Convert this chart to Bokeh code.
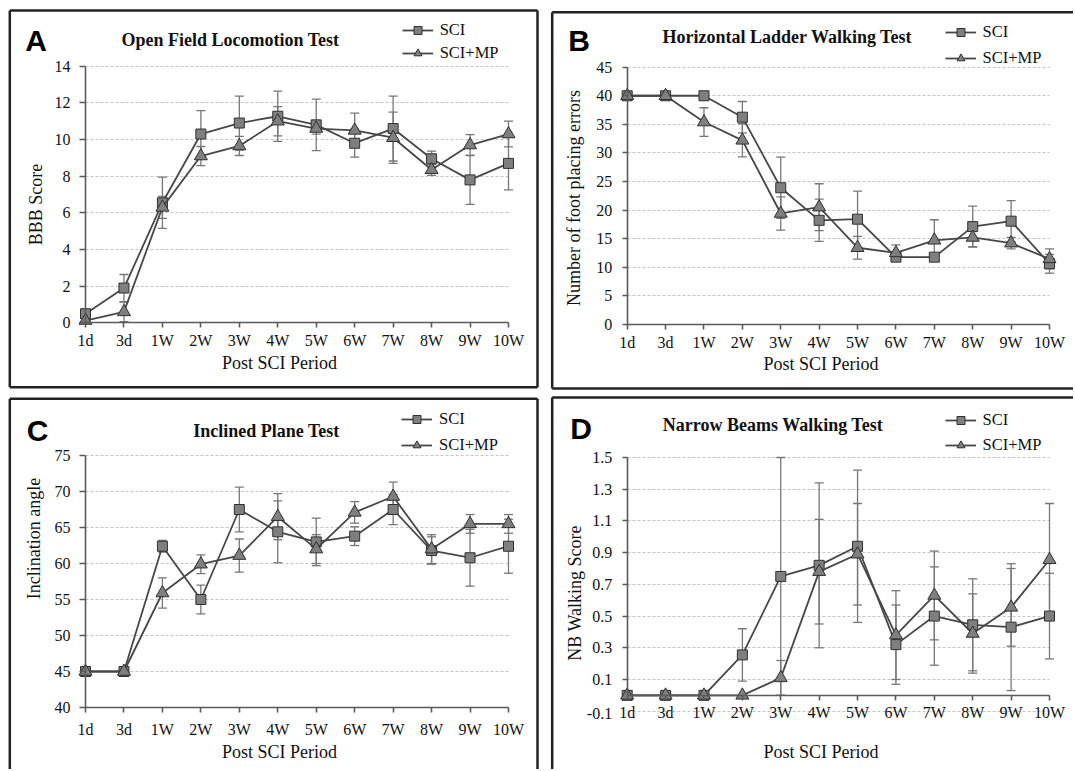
from bokeh.plotting import figure
from bokeh.layouts import column, row
from bokeh.models import (Range1d, FixedTicker, ColumnDataSource, Whisker, TeeHead,
                          Label, PolyAnnotation, Legend, LegendItem)
from bokeh.embed import file_html
from bokeh.resources import INLINE
from math import pi

# ---------------- data ----------------
periods = ["1d", "3d", "1W", "2W", "3W", "4W", "5W", "6W", "7W", "8W", "9W", "10W"]
series_names = ["SCI", "SCI+MP"]

# A: Open Field Locomotion Test (BBB score)
bbb_sci = [0.5, 1.9, 6.55, 10.3, 10.9, 11.27, 10.8, 9.8, 10.6, 8.95, 7.8, 8.7]
bbb_sci_err = [0.25, 0.74, 1.4, 1.28, 1.47, 1.37, 1.4, 0.76, 1.77, 0.42, 1.34, 1.44]
bbb_mp = [0.13, 0.6, 6.3, 9.1, 9.65, 11.0, 10.6, 10.5, 10.1, 8.35, 9.7, 10.3]
bbb_mp_err = [0.1, 0.53, 0.6, 0.52, 0.52, 0.8, 0.3, 0.94, 1.4, 0.3, 0.57, 0.7]
bbb_ticks = [0, 2, 4, 6, 8, 10, 12, 14]

# B: Horizontal Ladder Walking Test (foot placing errors)
ladder_sci = [40, 40, 40, 36.25, 23.9, 18.2, 18.4, 11.75, 11.75, 17.1, 18.05, 10.6]
ladder_sci_err = [0, 0, 0, 2.75, 5.35, 3.7, 4.9, 0.5, 0, 3.6, 3.6, 1.65]
ladder_mp = [40, 40, 35.4, 32.2, 19.4, 20.5, 13.4, 12.5, 14.7, 15.2, 14.2, 11.45]
ladder_mp_err = [0, 0, 2.5, 2.9, 2.9, 4.1, 2.0, 1.4, 3.6, 1.6, 1.0, 1.75]
ladder_ticks = [0, 5, 10, 15, 20, 25, 30, 35, 40, 45]

# C: Inclined Plane Test (inclination angle)
incline_sci = [45, 45, 62.4, 55.0, 67.5, 64.4, 63.0, 63.8, 67.5, 61.8, 60.8, 62.4]
incline_sci_err = [0, 0, 0.8, 2.0, 3.1, 4.3, 3.3, 1.3, 2.1, 1.9, 3.95, 3.75]
incline_mp = [45, 45, 55.9, 59.9, 61.1, 66.5, 62.0, 67.1, 69.3, 62.0, 65.5, 65.5]
incline_mp_err = [0, 0, 2.1, 1.3, 2.3, 3.2, 2.0, 1.5, 2.0, 2.0, 1.3, 1.3]
incline_ticks = [40, 45, 50, 55, 60, 65, 70, 75]

# D: Narrow Beams Walking Test (NB walking score)
beam_sci = [0, 0, 0, 0.255, 0.75, 0.82, 0.94, 0.32, 0.50, 0.445, 0.43, 0.50]
beam_sci_err = [0, 0, 0, 0.165, 0.75, 0.52, 0.48, 0.25, 0.31, 0.29, 0.40, 0.27]
beam_mp = [0, 0, 0, 0, 0.11, 0.78, 0.89, 0.38, 0.63, 0.39, 0.555, 0.855]
beam_mp_err = [0, 0, 0, 0, 0.11, 0.33, 0.32, 0.28, 0.28, 0.25, 0.245, 0.355]
beam_axis_ticks = [0.1, 0.3, 0.5, 0.7, 0.9, 1.1, 1.3, 1.5]
beam_grid_ticks = [-0.1, 0.1, 0.3, 0.5, 0.7, 0.9, 1.1, 1.3, 1.5]

# ---------------- style ----------------
SERIF = "Liberation Serif"
SANS = "Liberation Sans"
LINE = "#474747"
FILL = "#7f7f7f"
EDGE = "#303030"
ERR = "#777777"
GRID = "#c4c4c4"
AXIS = "#5a5a5a"
TXT = "#111111"

# visible panel-frame edges, page pixels ((x0, y0), (x1, y1)); far ends run off the window
FAR_X, FAR_Y = 2000, 2000
frame_A = [((9.3, 10), (537, 10)), ((537, 10), (537, 386.7)),
           ((9.3, 386.7), (537, 386.7)), ((9.3, 10), (9.3, 386.7))]
frame_B = [((551.7, 11.7), (FAR_X, 11.7)), ((551.7, 11.7), (551.7, 388)),
           ((551.7, 388), (FAR_X, 388))]
frame_C = [((9.3, 398.3), (537, 398.3)), ((9.3, 398.3), (9.3, FAR_Y)),
           ((537, 398.3), (537, FAR_Y))]
frame_D = [((551.7, 397), (FAR_X, 397)), ((551.7, 397), (551.7, FAR_Y))]

panels = [
    dict(letter="A", title="Open Field Locomotion Test", ylabel="BBB Score",
         sci=bbb_sci, sci_err=bbb_sci_err, mp=bbb_mp, mp_err=bbb_mp_err,
         yticks=bbb_ticks, gticks=bbb_ticks, ybounds=(0, 14), xaxis_at=0,
         canvas=(0, 0, 545, 392), xpix=(85, 508), ypix=((0, 322.4), (14, 65.7)),
         frame=frame_A, letter_xy=(35.5, 40.3), title_xy=(230, 39.3),
         ylabel_xy=(35.6, 204), xlabel_xy=(279, 362), legend=(401.7, 30, 3),
         ytick=(6, 9), xtick=(5, 4)),
    dict(letter="B", title="Horizontal Ladder Walking Test", ylabel="Number of foot placing errors",
         sci=ladder_sci, sci_err=ladder_sci_err, mp=ladder_mp, mp_err=ladder_mp_err,
         yticks=ladder_ticks, gticks=ladder_ticks, ybounds=(0, 45), xaxis_at=0,
         canvas=(545, 0, 528, 392), xpix=(626.7, 1049), ypix=((0, 323.8), (45, 66.7)),
         frame=frame_B, letter_xy=(578.7, 40), title_xy=(787, 36),
         ylabel_xy=(573.7, 197.5), xlabel_xy=(820.5, 363.3), legend=(944.5, 32.3, 6),
         ytick=(5, 10), xtick=(5, 5)),
    dict(letter="C", title="Inclined Plane Test", ylabel="Inclination angle",
         sci=incline_sci, sci_err=incline_sci_err, mp=incline_mp, mp_err=incline_mp_err,
         yticks=incline_ticks, gticks=incline_ticks, ybounds=(40, 75), xaxis_at=40,
         canvas=(0, 392, 545, 377), xpix=(85, 508), ypix=((40, 707), (75, 455)),
         frame=frame_C, letter_xy=(37, 430.3), title_xy=(266, 430),
         ylabel_xy=(33.6, 538), xlabel_xy=(279, 751.7), legend=(401, 419.3, 6),
         ytick=(6, 9), xtick=(5, 8)),
    dict(letter="D", title="Narrow Beams Walking Test", ylabel="NB Walking Score",
         sci=beam_sci, sci_err=beam_sci_err, mp=beam_mp, mp_err=beam_mp_err,
         yticks=beam_axis_ticks, gticks=beam_grid_ticks, ybounds=(0, 1.5), xaxis_at=0,
         canvas=(545, 392, 528, 377), xpix=(626.7, 1049), ypix=((-0.1, 710.7), (1.5, 457)),
         frame=frame_D, letter_xy=(580.5, 428.3), title_xy=(772.6, 424.3),
         ylabel_xy=(574.6, 592.5), xlabel_xy=(820.5, 751.7), legend=(944.5, 420, 5),
         ytick=(5, 10), xtick=(5, 4), extra_low_label="-0.1"),
]


def build(cfg):
    L, T, W, H = cfg["canvas"]
    X0, X11 = cfg["xpix"]
    kx = (X11 - X0) / 11.0
    xs = -(X0 - L) / kx
    xe = xs + W / kx
    (v1, Y1), (v2, Y2) = cfg["ypix"]
    ky = (Y1 - Y2) / (v2 - v1)
    ye = v2 + (Y2 - T) / ky
    ys = ye - H / ky

    # page pixel -> data value (clamped inside this canvas), used for the panel frame only
    def dx(X):
        X = min(max(X, L + 0.5), L + W - 0.5)
        return (X - X0) / kx

    def dy(Y):
        Y = min(max(Y, T + 0.5), T + H - 0.5)
        return v1 + (Y1 - Y) / ky

    p = figure(width=W, height=H, x_range=Range1d(xs, xe), y_range=Range1d(ys, ye),
               output_backend="svg", toolbar_location=None)
    p.min_border_left = 0
    p.min_border_right = 0
    p.min_border_top = 0
    p.min_border_bottom = 0
    p.outline_line_color = None
    p.background_fill_color = "white"
    p.border_fill_color = "white"

    xa = p.xaxis[0]
    ya = p.yaxis[0]
    xa.fixed_location = cfg["xaxis_at"]
    ya.fixed_location = 0
    xa.bounds = (0, 11)
    ya.bounds = cfg["ybounds"]
    xa.ticker = FixedTicker(ticks=list(range(len(periods))))
    xa.major_label_overrides = {i: lab for i, lab in enumerate(periods)}
    ya.ticker = FixedTicker(ticks=cfg["yticks"])
    for ax in (xa, ya):
        ax.axis_line_color = AXIS
        ax.axis_line_width = 1.6
        ax.major_tick_line_color = AXIS
        ax.major_tick_line_width = 1.6
        ax.minor_tick_line_color = None
        ax.major_tick_in = 0
        ax.major_label_text_font = SERIF
        ax.major_label_text_font_size = "16px"
        ax.major_label_text_color = TXT
    xa.major_tick_out, xa.major_label_standoff = cfg["xtick"]
    ya.major_tick_out, ya.major_label_standoff = cfg["ytick"]

    p.xgrid.visible = False
    g = p.ygrid[0]
    g.ticker = FixedTicker(ticks=cfg["gticks"])
    g.grid_line_color = GRID
    g.grid_line_dash = "3 2"
    g.grid_line_width = 1
    try:
        g.cross_bounds = (0, 11)
    except Exception:
        g.visible = False
        gt = cfg["gticks"]
        p.segment(x0=[0] * len(gt), x1=[11] * len(gt), y0=gt, y1=gt,
                  line_color=GRID, line_dash="3 2", line_width=1, level="underlay")

    x = list(range(len(periods)))
    for vals, errs in ((cfg["sci"], cfg["sci_err"]), (cfg["mp"], cfg["mp_err"])):
        idx = [i for i, e in enumerate(errs) if e > 0]
        src = ColumnDataSource(dict(x=idx,
                                    lower=[vals[i] - errs[i] for i in idx],
                                    upper=[vals[i] + errs[i] for i in idx]))
        p.add_layout(Whisker(source=src, base="x", lower="lower", upper="upper",
                             line_color=ERR, line_width=1.3,
                             upper_head=TeeHead(size=9, line_color=ERR, line_width=1.3),
                             lower_head=TeeHead(size=9, line_color=ERR, line_width=1.3)))

    l1 = p.line(x, cfg["sci"], line_color=LINE, line_width=1.8)
    s1 = p.scatter(x, cfg["sci"], marker="square", size=10, fill_color=FILL,
                   line_color=EDGE, line_width=1)
    l2 = p.line(x, cfg["mp"], line_color=LINE, line_width=1.8)
    s2 = p.scatter(x, cfg["mp"], marker="triangle", size=13, fill_color=FILL,
                   line_color=EDGE, line_width=1)

    lx, row1, sp = cfg["legend"]
    item_h = 20
    ltop = row1 - item_h / 2
    lbottom = ltop + 2 * item_h + sp
    leg = Legend(items=[LegendItem(label=series_names[0], renderers=[l1, s1]),
                        LegendItem(label=series_names[1], renderers=[l2, s2])],
                 location=(lx - L, T + H - lbottom), orientation="vertical",
                 background_fill_alpha=0, border_line_color=None, padding=0, margin=0,
                 spacing=sp, glyph_width=31, glyph_height=item_h, label_height=item_h,
                 label_standoff=7, label_text_font=SERIF, label_text_font_size="16.5px",
                 label_text_color=TXT)
    p.add_layout(leg)

    def lab(text, X, Y, size, font=SERIF, style="normal", angle=0.0, color=TXT):
        p.add_layout(Label(x=X - L, y=T + H - Y, x_units="screen", y_units="screen", text=text,
                           text_align="center", text_baseline="middle", text_font=font,
                           text_font_size=size, text_font_style=style, text_color=color,
                           angle=angle))

    lab(cfg["letter"], *cfg["letter_xy"], "30px", font=SANS, style="bold", color="black")
    lab(cfg["title"], *cfg["title_xy"], "18px", style="bold")
    lab(cfg["ylabel"], *cfg["ylabel_xy"], "18px", angle=pi / 2)
    lab("Post SCI Period", *cfg["xlabel_xy"], "18px")

    if cfg.get("extra_low_label"):
        p.add_layout(Label(x=0, y=cfg["yticks"][0] - 0.2, x_offset=-(cfg["ytick"][0] + cfg["ytick"][1]),
                           y_offset=-2, text=cfg["extra_low_label"], text_align="right",
                           text_baseline="middle", text_font=SERIF, text_font_size="16px",
                           text_color=TXT))

    # each visible frame edge as its own two-point outline, in data units, inside the canvas
    for (ax0, ay0), (ax1, ay1) in cfg["frame"]:
        p.add_layout(PolyAnnotation(xs=[dx(ax0), dx(ax1)], ys=[dy(ay0), dy(ay1)],
                                    xs_units="data", ys_units="data",
                                    fill_color=None, fill_alpha=0, line_color="#222222",
                                    line_alpha=1.0, line_width=2.5))
    return p


figs = [build(c) for c in panels]
layout = column(row(figs[0], figs[1]), row(figs[2], figs[3]))

open("out.html", "w").write(file_html(layout, INLINE, "Post SCI behavioural tests"))
